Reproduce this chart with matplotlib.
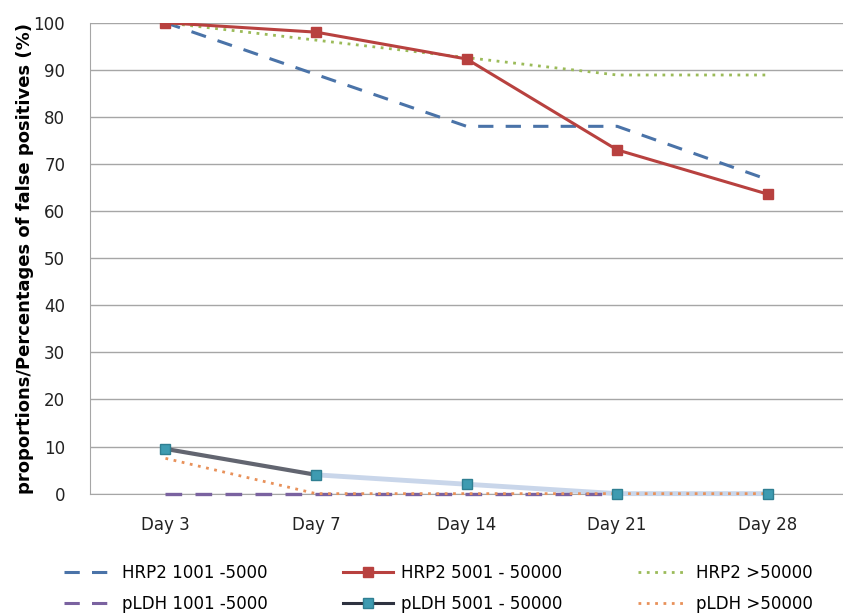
import numpy as np
import matplotlib.pyplot as plt
from matplotlib.lines import Line2D

days = ["Day 3", "Day 7", "Day 14", "Day 21", "Day 28"]

hrp2_low = [100, 89, 78, 78, 66.7]
hrp2_mid = [100, 98, 92.3, 73, 63.6]
hrp2_high = [100, 96.3, 92.6, 88.9, 88.9]
pldh_low = [0, 0, 0, 0, np.nan]
pldh_mid = [9.5, 4, 2, 0, 0]
pldh_high = [7.5, 0, 0, 0, 0]

x = np.arange(len(days))

fig = plt.figure(figsize=(8.43, 6.14), dpi=100)
ax = fig.add_axes([0.107, 0.196, 0.893, 0.767])

# gridlines
ax.set_axisbelow(True)
ax.grid(True, axis="y", color="#a6a6a6", linewidth=1.0)

ax.plot(x, hrp2_low, color="#4a73a8", linestyle=(0, (5, 4)), linewidth=2.2,
        label="HRP2 1001 -5000")
ax.plot(x, hrp2_high, color="#9bbb59", linestyle=(0, (1, 2)), linewidth=2.0,
        label="HRP2 >50000")
ax.plot(x, hrp2_mid, color="#b8413f", linewidth=2.2, marker="s", markersize=7,
        label="HRP2 5001 - 50000")

# pLDH 5001-50000: dark first segment fading into a pale line
ax.plot(x[1:], pldh_mid[1:], color="#c9d6ea", linewidth=3.5, solid_capstyle="round",
        clip_on=False, zorder=3)
ax.plot(x[:2], pldh_mid[:2], color="#2e3240", linewidth=3.0, alpha=0.75, zorder=3)
ax.plot(x, pldh_low, color="#7a62a0", linestyle=(0, (5, 4)), linewidth=2.4,
        label="pLDH 1001 -5000", clip_on=False, zorder=4)
ax.plot(x, pldh_high, color="#e8915a", linestyle=(0, (1, 2)), linewidth=2.0,
        label="pLDH >50000", clip_on=False, zorder=4)
ax.plot(x, pldh_mid, linestyle="none", marker="s", markersize=7,
        color="#3e9bb1", markeredgecolor="#2f7f92", clip_on=False, zorder=5)

ax.set_xlim(-0.5, len(days) - 0.5)
ax.set_ylim(0, 100)
ax.set_yticks(np.arange(0, 101, 10))
ax.set_xticks(x)
ax.set_xticklabels(days)
ax.tick_params(axis="both", length=0, labelsize=12, colors="#222222")
ax.tick_params(axis="x", pad=16)
ax.tick_params(axis="y", pad=18)
for side in ["top", "right"]:
    ax.spines[side].set_visible(False)
ax.spines["left"].set_color("#a6a6a6")
ax.spines["bottom"].set_color("#a6a6a6")

ax.set_ylabel("proportions/Percentages of false positives (%)", fontsize=13,
              fontweight="bold", labelpad=0)

handles = [
    Line2D([], [], color="#4a73a8", linestyle=(0, (5, 4)), linewidth=2.2),
    Line2D([], [], color="#7a62a0", linestyle=(0, (5, 4)), linewidth=2.2),
    Line2D([], [], color="#b8413f", linewidth=2.2, marker="s", markersize=7),
    Line2D([], [], color="#2e3240", linewidth=2.2, marker="s", markersize=7,
           markerfacecolor="#3e9bb1", markeredgecolor="#2f7f92"),
    Line2D([], [], color="#9bbb59", linestyle=(0, (1, 2)), linewidth=2.0),
    Line2D([], [], color="#e8915a", linestyle=(0, (1, 2)), linewidth=2.0),
]
labels = ["HRP2 1001 -5000", "pLDH 1001 -5000", "HRP2 5001 - 50000",
          "pLDH 5001 - 50000", "HRP2 >50000", "pLDH >50000"]
fig.legend(handles, labels, ncol=3, loc="lower center", bbox_to_anchor=(0.52, -0.022),
           frameon=False, fontsize=12, handlelength=3.0, columnspacing=4.5,
           labelspacing=0.75, handletextpad=0.5)

fig.savefig("out.png", dpi=100)
